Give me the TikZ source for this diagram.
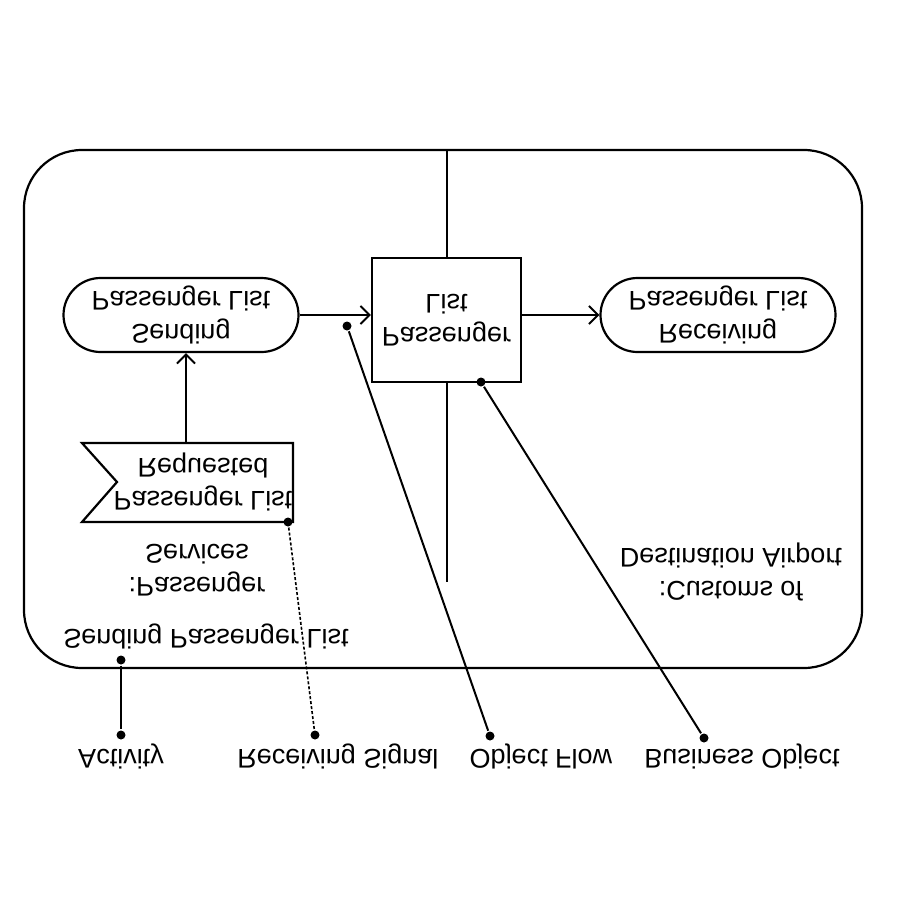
\documentclass[tikz,border=0pt]{standalone}
\usepackage{fontspec}
\setmainfont{Liberation Sans}
\usetikzlibrary{arrows.meta,shapes.misc}
\begin{document}
\begin{tikzpicture}[x=1pt,y=1pt,yscale=-1,transform shape,line width=2.2pt,
  font=\fontsize{27}{33}\selectfont,
  pill/.style={draw,fill=white,rounded rectangle,minimum width=235pt,minimum height=74pt,inner sep=0pt,align=center},
  objbox/.style={draw,fill=white,minimum width=149pt,minimum height=124pt,inner sep=0pt,align=center},
  lbl/.style={align=center,inner sep=0pt},
  dot/.style={circle,fill=black,draw=none,inner sep=0pt,minimum size=9pt},
  leader/.style={line width=2pt},
  flow/.style={-{Straight Barb[length=9pt,width=18pt]},line width=2pt}]
\useasboundingbox (0,0) rectangle (900,900);
% activity frame
\draw[rounded corners=58pt] (24,150) rectangle (862,668);
% partition line
\coordinate (ptop) at (447,150);
\coordinate (pbot) at (447,582);
\draw (ptop) -- (pbot);
% nodes
\node[pill] (send) at (181,315) {Sending\\Passenger List};
\node[pill] (recv) at (718,315) {Receiving\\Passenger List};
\node[objbox] (obj) at (446.5,320) {Passenger\\List};
% receiving signal
\draw[fill=white] (82,443) -- (293,443) -- (293,522) -- (82,522) -- (117,482) -- cycle;
\node[lbl] (sig) at (203,482) {Passenger List\\Requested};
\coordinate (sigtop) at (186,443);
% flows (nodes are flipped: their north anchor lies at the bottom of the picture)
\draw[flow] (sigtop) -- (sigtop |- send.north);
\draw[flow] (send.east) -- (send.east -| obj.west);
\draw[flow] (obj.east |- recv.west) -- (recv.west);
% partition labels
\node[lbl] (part1) at (197,570) {:Passenger\\Services};
\node[lbl] (actname) at (206,636) {Sending Passenger List};
\node[lbl] (part2) at (731,572) {:Customs of\\Destination Airport};
% bottom labels
\node[lbl] (lact) at (121,756) {Activity};
\node[lbl] (lsig) at (338,756) {Receiving Signal};
\node[lbl] (lflow) at (541,756) {Object Flow};
\node[lbl] (lbo) at (742,756) {Business Object};
% leader dots
\node[dot] (d1a) at (121,660) {};
\node[dot] (d1b) at (121,735) {};
\node[dot] (d2a) at (288,522) {};
\node[dot] (d2b) at (315,735) {};
\node[dot] (d3a) at (347,326) {};
\node[dot] (d3b) at (490,736) {};
\node[dot] (d4a) at (481,382) {};
\node[dot] (d4b) at (704,738) {};
\draw[leader] (d1a) -- (d1b);
\draw[leader,densely dashed,line width=1.6pt] (d2a) -- (d2b);
\draw[leader] (d3a) -- (d3b);
\draw[leader] (d4a) -- (d4b);
\end{tikzpicture}
\end{document}
